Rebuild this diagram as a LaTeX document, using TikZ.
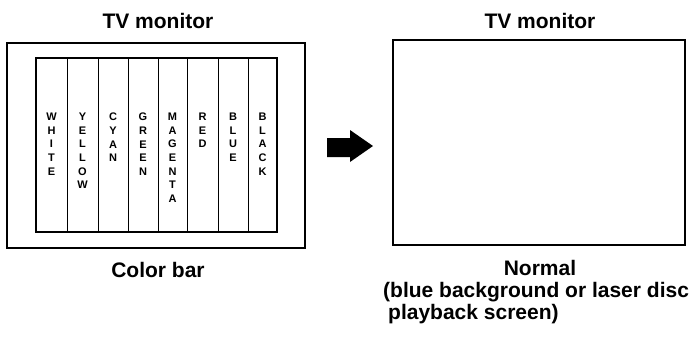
\documentclass[tikz,border=0pt]{standalone}
\usepackage{fontspec}
\setmainfont{Liberation Sans}
\begin{document}
\begin{tikzpicture}[x=1pt,y=-1pt,
  frame/.style={draw, line width=1.2pt},
  bar/.style={draw, line width=1pt},
  title/.style={font=\fontsize{21}{25}\selectfont\bfseries, inner sep=0},
  letters/.style={font=\fontsize{11}{13.6}\selectfont\bfseries, align=center, inner sep=0, anchor=north}]
\useasboundingbox (0,0) rectangle (699,354);
% left monitor
\draw[frame] (7,43) rectangle (305,248);
\draw[frame] (36,58) rectangle (277,232);
\foreach \x in {67,98,128,158,187,218,248} \draw[bar] (\x,58) -- (\x,232);
\node[letters] (white) at (51.5,113) {W\\H\\I\\T\\E};
\node[letters] (yellow) at (82.5,113) {Y\\E\\L\\L\\O\\W};
\node[letters] (cyan) at (113,113) {C\\Y\\A\\N};
\node[letters] (green) at (143,113) {G\\R\\E\\E\\N};
\node[letters] (magenta) at (172.5,113) {M\\A\\G\\E\\N\\T\\A};
\node[letters] (red) at (202.5,113) {R\\E\\D};
\node[letters] (blue) at (233,113) {B\\L\\U\\E};
\node[letters] (black) at (262.5,113) {B\\L\\A\\C\\K};
\node[title] (t1) at (158,21) {TV monitor};
\node[title] (cb) at (158,270) {Color bar};
% arrow
\fill (327,138) -- (350,138) -- (350,130) -- (373,146) -- (350,162) -- (350,157) -- (327,157) -- cycle;
% right monitor
\draw[frame] (393,40) rectangle (685,245);
\node[title] (t2) at (540,21) {TV monitor};
\node[title] (nm) at (540,268) {Normal};
\node[title, anchor=west] (p1) at (383,292) {(blue background or laser disc};
\node[title, anchor=west] (p2) at (388,314) {playback screen)};
\end{tikzpicture}
\end{document}
